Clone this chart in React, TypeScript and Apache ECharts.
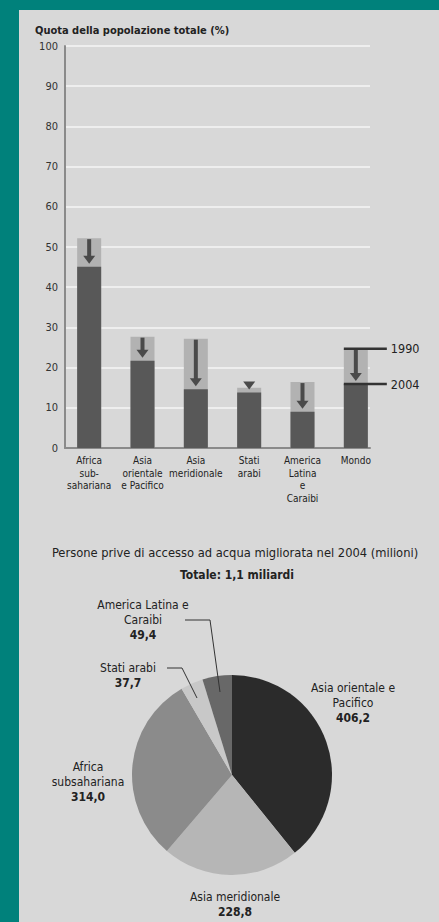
import React, { useEffect, useRef } from "react";
import * as echarts from "echarts";

const FONT = "'Liberation Sans Narrow', 'DejaVu Sans Condensed', 'Liberation Sans', sans-serif";

const categories = [
  "Africa\nsub-\nsahariana",
  "Asia\norientale\ne Pacifico",
  "Asia\nmeridionale",
  "Stati\narabi",
  "America\nLatina\ne\nCaraibi",
  "Mondo",
];
const values1990 = [52.2, 27.7, 27.2, 15.0, 16.4, 24.7];
const values2004 = [45.1, 21.7, 14.6, 13.8, 9.0, 15.9];
const yTicks = { min: 0, max: 100, interval: 10 };
const refYears = ["1990", "2004"];

const pieNames = [
  "Asia orientale e Pacifico",
  "Asia meridionale",
  "Africa subsahariana",
  "Stati arabi",
  "America Latina e Caraibi",
];
const pieLabelNames = [
  "Asia orientale e\nPacifico",
  "Asia meridionale",
  "Africa\nsubsahariana",
  "Stati arabi",
  "America Latina e\nCaraibi",
];
const pieValues = [406.2, 228.8, 314.0, 37.7, 49.4];
const pieValueText = ["406,2", "228,8", "314,0", "37,7", "49,4"];
const pieColors = ["#2b2b2b", "#b6b6b6", "#8b8b8b", "#c8c8c8", "#686868"];

const barTitle = "Quota della popolazione totale (%)";
const pieTitle = "Persone prive di accesso ad acqua migliorata nel 2004 (milioni)";
const pieSubtitle = "Totale: 1,1 miliardi";

// label anchor positions (annotation layout)
const pieLabelPos = [
  { x: 353, y: 680.5 },
  { x: 235, y: 889 },
  { x: 88, y: 759.5 },
  { x: 128, y: 660.5 },
  { x: 143, y: 597.5 },
];

export default function App() {
  const ref = useRef<HTMLDivElement>(null);
  useEffect(() => {
    if (!ref.current) return;
    const chart = echarts.init(ref.current, null, { renderer: "svg" });
    const arrowColor = "#4a4a4a";
    const option: any = {
      animation: false,
      backgroundColor: "#d8d8d8",
      textStyle: { fontFamily: FONT },
      graphic: [
        { type: "rect", shape: { x: 0, y: 0, width: 439, height: 10 }, style: { fill: "#00817b" }, z: 100 },
        { type: "rect", shape: { x: 0, y: 0, width: 19, height: 922 }, style: { fill: "#00817b" }, z: 100 },
        {
          type: "text", x: 35, y: 30,
          style: { text: barTitle, fontSize: 11, fontFamily: FONT, fill: "#222", verticalAlign: "middle", fontWeight: "bold" },
        },
        {
          type: "text", x: 235, y: 552,
          style: { text: pieTitle, fontSize: 12.8, fontFamily: FONT, fill: "#222", align: "center", verticalAlign: "middle" },
        },
        {
          type: "text", x: 237, y: 575,
          style: { text: pieSubtitle, fontSize: 12, fontFamily: FONT, fill: "#222", align: "center", verticalAlign: "middle", fontWeight: "bold" },
        },
        {
          type: "polyline", shape: { points: [[167, 668], [182, 668], [197, 698]] },
          style: { stroke: "#333", lineWidth: 1, fill: null }, z: 50,
        },
        {
          type: "polyline", shape: { points: [[185, 620], [210, 620], [220, 692]] },
          style: { stroke: "#333", lineWidth: 1, fill: null }, z: 50,
        },
      ],
      grid: [
        { left: 65, top: 46, width: 305, height: 402 },
        { left: 62.5, top: 46, width: 320, height: 402 },
      ],
      xAxis: [
        {
          gridIndex: 0, type: "value", min: 0, max: 1,
          axisLine: { show: true, lineStyle: { color: "#8a8a8a", width: 2 } },
          axisTick: { show: false }, axisLabel: { show: false }, splitLine: { show: false },
        },
        {
          gridIndex: 1, type: "category", data: categories,
          axisLine: { show: false }, axisTick: { show: false },
          axisLabel: { interval: 0, fontSize: 10, lineHeight: 12.7, color: "#222", margin: 6, fontFamily: FONT },
        },
      ],
      yAxis: [
        {
          gridIndex: 0, type: "value", ...yTicks,
          axisLine: { show: true, lineStyle: { color: "#8a8a8a", width: 2 } },
          axisTick: { show: false },
          axisLabel: { fontSize: 11, color: "#333", margin: 7, fontFamily: FONT },
          splitLine: { show: true, lineStyle: { color: "#eeeeee", width: 2 } },
        },
        {
          gridIndex: 1, type: "value", ...yTicks,
          axisLine: { show: false }, axisTick: { show: false }, axisLabel: { show: false }, splitLine: { show: false },
        },
      ],
      series: [
        {
          name: "1990", type: "bar", xAxisIndex: 1, yAxisIndex: 1, data: values1990,
          barWidth: 24, itemStyle: { color: "#b2b2b2" }, z: 3,
        },
        {
          name: "2004", type: "bar", xAxisIndex: 1, yAxisIndex: 1, data: values2004,
          barWidth: 24, barGap: "-100%", itemStyle: { color: "#585858" }, z: 4,
        },
        {
          type: "custom", xAxisIndex: 1, yAxisIndex: 1, z: 5,
          data: values1990.map((v, i) => [i, v, values2004[i]]),
          encode: { x: 0, y: [1, 2] },
          renderItem: (params: any, api: any) => {
            const i = api.value(0);
            const top = api.coord([i, api.value(1)]);
            const bot = api.coord([i, api.value(2)]);
            const x = top[0];
            const tipY = bot[1] - 3;
            const headH = 8, headW = 6;
            const y0 = top[1] + 1;
            const shaftEnd = tipY - headH + 1;
            const children: any[] = [];
            if (shaftEnd > y0) {
              children.push({ type: "rect", shape: { x: x - 2, y: y0, width: 4, height: shaftEnd - y0 }, style: { fill: arrowColor } });
            }
            children.push({
              type: "polygon",
              shape: { points: [[x - headW, tipY - headH], [x + headW, tipY - headH], [x, tipY]] },
              style: { fill: arrowColor },
            });
            return { type: "group", children };
          },
        },
        {
          type: "custom", xAxisIndex: 1, yAxisIndex: 1, z: 6,
          data: [[categories.length - 1, values1990[5]], [categories.length - 1, values2004[5]]],
          encode: { x: 0, y: 1 },
          renderItem: (params: any, api: any) => {
            const p = api.coord([api.value(0), api.value(1)]);
            return {
              type: "group",
              children: [
                { type: "line", shape: { x1: p[0] - 12, y1: p[1], x2: p[0] + 31, y2: p[1] }, style: { stroke: "#333", lineWidth: 2.5 } },
                {
                  type: "text", x: p[0] + 35, y: p[1],
                  style: { text: refYears[params.dataIndex], fontSize: 12.5, fontFamily: FONT, fill: "#222", verticalAlign: "middle" },
                },
              ],
            };
          },
        },
        {
          type: "pie", center: [232, 775], radius: 100, startAngle: 90, clockwise: true,
          data: pieValues.map((v, i) => ({
            name: pieNames[i], value: v, itemStyle: { color: pieColors[i] },
          })),
          label: {
            show: true, position: "outside", overflow: "none",
            formatter: (p: any) => `{n|${pieLabelNames[p.dataIndex]}}\n{v|${pieValueText[p.dataIndex]}}`,
            rich: {
              n: { fontSize: 12, lineHeight: 15, color: "#222", fontFamily: FONT, align: "center" },
              v: { fontSize: 12, lineHeight: 15, color: "#222", fontWeight: "bold", fontFamily: FONT, align: "center" },
            },
            align: "center",
          },
          labelLine: { show: false },
          labelLayout: (p: any) => ({
            x: pieLabelPos[p.dataIndex].x,
            y: pieLabelPos[p.dataIndex].y,
            align: "center",
            verticalAlign: "top",
          }),
          emphasis: { disabled: true },
        },
      ],
    };
    chart.setOption(option);
    return () => chart.dispose();
  }, []);
  return (
    <div
      ref={ref}
      style={{ position: "absolute", left: 0, top: 0, width: 439, height: 922 }}
    />
  );
}
